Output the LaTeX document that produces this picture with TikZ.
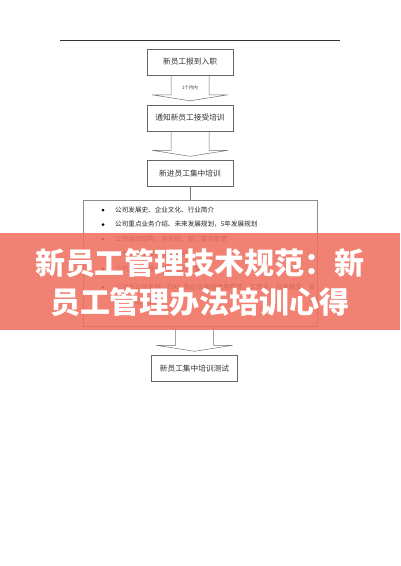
\documentclass[tikz,border=0pt]{standalone}
\usepackage{fontspec}
\newfontfamily\cjk{Noto Sans CJK SC}
\usepackage{tikz}
\usetikzlibrary{calc,positioning}
\definecolor{banner}{RGB}{240,112,96}

% block arrow from the bottom of #1 to the top of #2
\newcommand{\blockarrow}[2]{%
  \draw[arrowline] let \p1=(#1.south), \p2=(#2.north) in
    (\x2-19pt,\y1) -- (\x2-19pt,\y2+10pt) -- (\x2-38pt,\y2+10pt) -- (\x2,\y2+4pt)
    -- (\x2+38pt,\y2+10pt) -- (\x2+19pt,\y2+10pt) -- (\x2+19pt,\y1);}

\begin{document}
\begin{tikzpicture}[x=1pt,y=-1pt,
    stepbox/.style={draw=black!60,fill=white,minimum width=86pt,minimum height=26pt,inner sep=0pt,font=\cjk\fontsize{7.7}{9}\selectfont,text=black!80},
    arrowline/.style={draw=black!55,line width=0.5pt},
    listtext/.style={anchor=west,inner sep=0pt,font=\cjk\fontsize{6.6}{8}\selectfont,text=black!85}]
  \useasboundingbox (0,0) rectangle (400,566);
  \fill[white] (0,0) rectangle (400,566);
  \coordinate (rulel) at (60,40);
  \coordinate (ruler) at (340,40);
  \draw[black!80,line width=0.6pt] (rulel) -- (ruler);

  \node[stepbox] (arrive) at (190,62) {新员工报到入职};
  \node[stepbox] (notice) at (190,118) {通知新员工接受培训};
  \node[stepbox] (train) at (190,173.5) {新进员工集中培训};
  \node[draw=black!45,minimum width=234pt,minimum height=126pt,inner sep=0pt,anchor=north] (content) at (200,200) {};
  \node[stepbox] (test) at (194.5,368.5) {新员工集中培训测试};

  \blockarrow{arrive}{notice}
  \node[inner sep=0pt,font=\cjk\fontsize{4.5}{5}\selectfont,text=black!80] (within) at (190,88) {1个月内};
  \blockarrow{notice}{train}
  \draw[arrowline] (train.south) -- (train.south |- content.north);
  \blockarrow{content}{test}

  % course contents
  \foreach \y/\txt in {210/公司发展史、企业文化、行业简介,
                       224.5/公司重点业务介绍、未来发展规划，5年发展规划,
                       239/公司组织结构、各系统、部门重点职责,
                       254/公司规章制度、员工手册,
                       269/公司人事制度、薪酬福利制度,
                       287/公司办公化系统（OA）及企业网络使用规范、工资卡、月末报交、各}{
    \fill[black] (103,\y) circle (1.5);
    \node[listtext] at (115,\y) {\txt};
  }
  \node[listtext] (more) at (115,302) {部门联络方式等};

  % title banner
  \fill[banner,opacity=0.88] (0,233) rectangle (400,330);
  \node[inner sep=0pt,text=white,font=\cjk\bfseries\fontsize{30}{32}\selectfont] (title) at (200,263) {新员工管理技术规范：新};
  \node[inner sep=0pt,text=white,font=\cjk\bfseries\fontsize{30}{32}\selectfont] (subtitle) at (200,302) {员工管理办法培训心得};
\end{tikzpicture}
\end{document}
